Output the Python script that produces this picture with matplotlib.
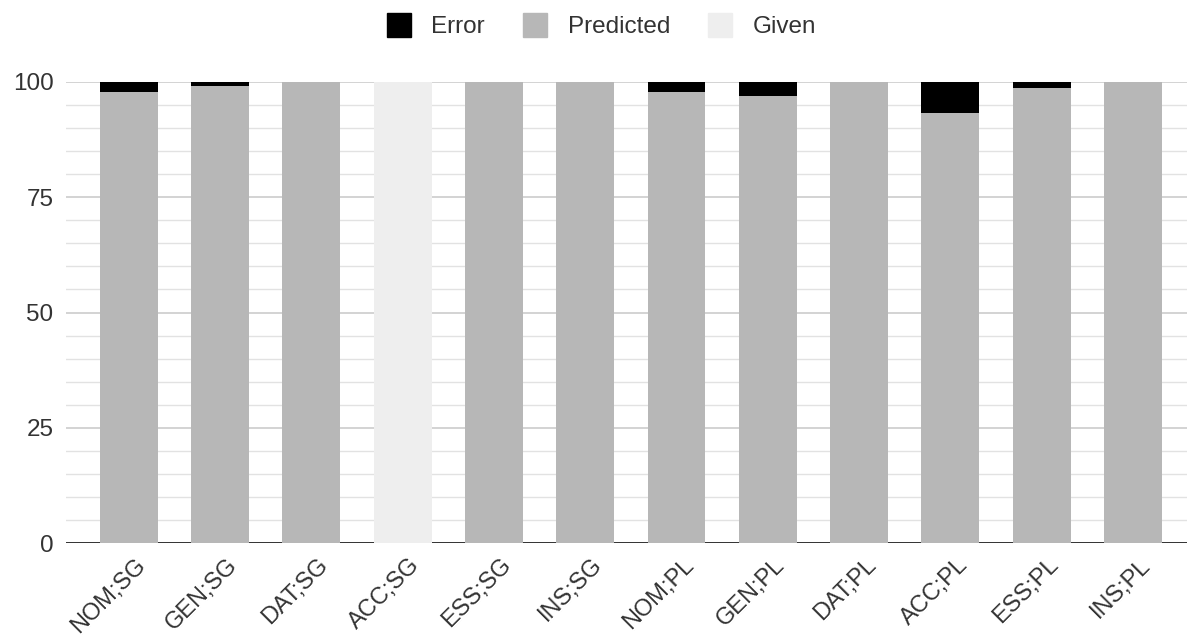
import matplotlib
matplotlib.use("Agg")
import matplotlib.pyplot as plt
from matplotlib.lines import Line2D
from matplotlib.transforms import ScaledTranslation

plt.rcParams['font.family'] = ['Liberation Sans', 'DejaVu Sans']

categories = ["NOM;SG", "GEN;SG", "DAT;SG", "ACC;SG", "ESS;SG", "INS;SG",
              "NOM;PL", "GEN;PL", "DAT;PL", "ACC;PL", "ESS;PL", "INS;PL"]
given = [0, 0, 0, 100, 0, 0, 0, 0, 0, 0, 0, 0]
predicted = [97.8, 99.2, 100, 0, 100, 100, 97.8, 97.0, 100, 93.3, 98.7, 100]
error = [2.2, 0.8, 0, 0, 0, 0, 2.2, 3.0, 0, 6.7, 1.3, 0]

c_error = "#000000"
c_pred = "#b7b7b7"
c_given = "#eeeeee"
c_text = "#333333"
FS = 17.5
FSX = 17

fig = plt.figure(figsize=(11.87, 6.42), dpi=100)
ax = fig.add_axes([66 / 1187, 1 - 543 / 642, 1 - 66 / 1187, (543 - 82) / 642])

x = list(range(len(categories)))
w = 0.635
ax.bar(x, given, width=w, color=c_given, zorder=3)
ax.bar(x, predicted, width=w, bottom=given, color=c_pred, zorder=3)
bottom2 = [g + p for g, p in zip(given, predicted)]
ax.bar(x, error, width=w, bottom=bottom2, color=c_error, zorder=3)

ax.set_xlim(-0.685, len(categories) - 1 + 0.59)
ax.set_ylim(0, 100)
ax.set_yticks([0, 25, 50, 75, 100])
ax.set_yticks(list(range(0, 101, 5)), minor=True)
ax.grid(axis='y', which='major', color='#cccccc', linewidth=1.2, zorder=0)
ax.grid(axis='y', which='minor', color='#e2e2e2', linewidth=1.0, zorder=0)
ax.axhline(0, color='#333333', linewidth=1.4, zorder=2)
for s in ax.spines.values():
    s.set_visible(False)
ax.tick_params(axis='both', which='both', length=0)
ax.tick_params(axis='y', labelsize=FS, colors=c_text, pad=9)
ax.set_xticks(x)
ax.set_xticklabels(categories, rotation=45, ha='right', va='top',
                   rotation_mode='anchor', fontsize=FSX, color=c_text)
ax.tick_params(axis='x', pad=0)
off = ScaledTranslation(6 / 100, -11 / 100, fig.dpi_scale_trans)
for lab in ax.get_xticklabels():
    lab.set_transform(lab.get_transform() + off)

handles = [Line2D([], [], marker='s', linestyle='none', markersize=17, color=c)
           for c in (c_error, c_pred, c_given)]
fig.legend(handles, ["Error", "Predicted", "Given"], loc='center',
           bbox_to_anchor=(0.506, 1 - 27 / 642), ncol=3, frameon=False,
           fontsize=FS, handlelength=1.1, handletextpad=0.8, columnspacing=1.5,
           labelcolor=c_text, borderpad=0)

fig.savefig("out.png", dpi=100)
